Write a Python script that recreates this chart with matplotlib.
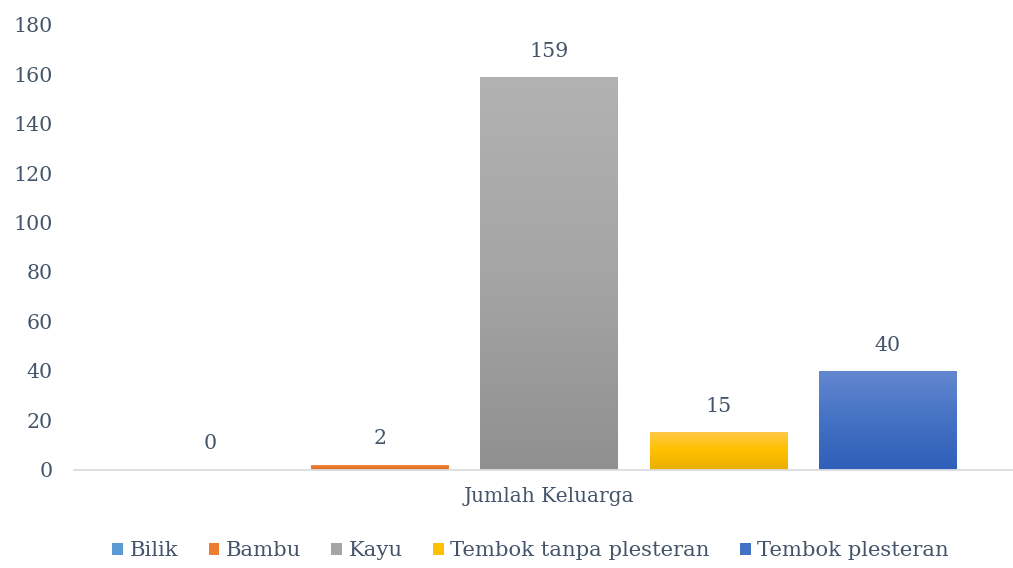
import numpy as np
import matplotlib
matplotlib.use("Agg")
import matplotlib.pyplot as plt
from matplotlib.colors import LinearSegmentedColormap
from matplotlib.patches import Rectangle

# Data
categories = ["Bilik", "Bambu", "Kayu", "Tembok tanpa plesteran", "Tembok plesteran"]
values = [0, 2, 159, 15, 40]
group_label = "Jumlah Keluarga"
y_ticks = [0, 20, 40, 60, 80, 100, 120, 140, 160, 180]

# Gradient stops (top, middle, bottom) for each series
gradients = [
    ("#7FB2E2", "#5B9BD5", "#4A89C6"),
    ("#F6955B", "#ED7D31", "#E06E22"),
    ("#B2B2B2", "#A5A5A5", "#909090"),
    ("#FFCA4A", "#FFC000", "#EBB000"),
    ("#6587D0", "#4472C4", "#2F5FB9"),
]

text_color = "#44546A"
plt.rcParams["font.family"] = ["DejaVu Serif"]

W, H, DPI = 1013, 568, 100
fig = plt.figure(figsize=(W / DPI, H / DPI), dpi=DPI)
ax_left, ax_right = 74, 1013
ax_top, ax_bottom = 25, 469.5
ax = fig.add_axes([ax_left / W, 1 - ax_bottom / H, (ax_right - ax_left) / W, (ax_bottom - ax_top) / H])

x = np.arange(len(categories))
bar_w = 0.81
bars = ax.bar(x, values, width=bar_w, color=[g[1] for g in gradients], zorder=2)

# vertical gradient fill for each bar
grad = np.linspace(0, 1, 256).reshape(-1, 1)
for b, g in zip(bars, gradients):
    h = b.get_height()
    if h <= 0:
        continue
    cmap = LinearSegmentedColormap.from_list("g", [g[2], g[1], g[0]])
    im = ax.imshow(grad, cmap=cmap, aspect="auto", origin="lower",
                   extent=(b.get_x(), b.get_x() + b.get_width(), 0, h), zorder=3)
    im.set_clip_path(b)

for xi, v in zip(x, values):
    ax.annotate(f"{v}", (xi, v), xytext=(0, 18.5), textcoords="offset points",
                ha="center", va="center", fontsize=14.8, color=text_color, zorder=4)

ax.set_xlim(2 - (549 - ax_left) / 169.2, 2 + (ax_right - 549) / 169.2)
ax.set_ylim(0, 180)
ax.set_yticks(y_ticks)
ax.set_xticks([2])
ax.set_xticklabels([group_label])
ax.tick_params(axis="y", length=0, pad=15.5, labelsize=14.8, labelcolor=text_color)
ax.tick_params(axis="x", length=0, pad=12.5, labelsize=14.5, labelcolor=text_color)
for s in ["top", "right", "left"]:
    ax.spines[s].set_visible(False)
ax.spines["bottom"].set_color("#D9DCE1")
ax.spines["bottom"].set_linewidth(1.3)
ax.spines["bottom"].set_zorder(5)

handles = []
for g in gradients:
    handles.append(Rectangle((0, 0), 1, 1, facecolor=g[1], edgecolor="none"))
leg = fig.legend(handles, categories, loc="center", bbox_to_anchor=(530.5 / W, 1 - 551 / H),
                 ncol=5, frameon=False, fontsize=15.2, handlelength=0.5, handleheight=0.5,
                 handletextpad=0.3, columnspacing=1.45, borderpad=0)
for t in leg.get_texts():
    t.set_color(text_color)

fig.savefig("out.png", dpi=DPI)
